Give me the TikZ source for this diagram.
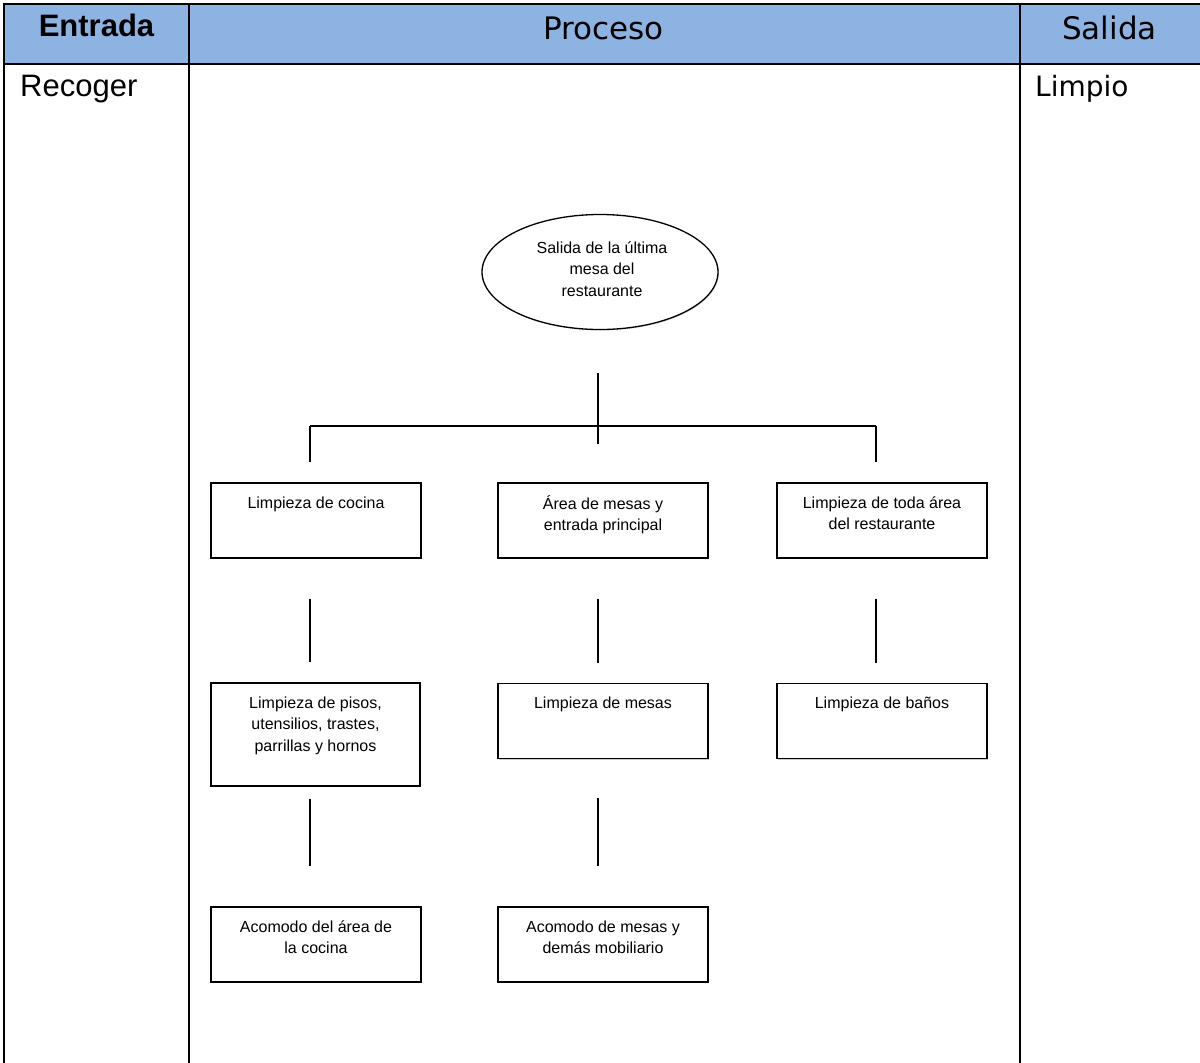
\documentclass[tikz,border=0pt]{standalone}
\usepackage{fontspec}
\setmainfont{Liberation Sans}
\newfontfamily\headfont{DejaVu Sans}
\usetikzlibrary{shapes.geometric,shadows,calc}
\definecolor{headblue}{HTML}{8DB3E2}

\begin{document}
\begin{tikzpicture}[x=1pt,y=-1pt,
  rule/.style={line width=2pt, line cap=rect},
  stepbox/.style={draw, fill=white, line width=1.3pt, minimum width=210pt, minimum height=75pt,
    inner sep=0pt, drop shadow={shadow xshift=1.2pt, shadow yshift=-1.2pt, fill=black!40}},
  boxtext/.style={font=\fontsize{16}{21.5}\selectfont, align=center, inner sep=0pt, anchor=north},
  link/.style={line width=1.3pt}]

\useasboundingbox (0,0) rectangle (1200,1063);

% table frame
\fill[headblue] (4,4) rectangle (1200,64);
\draw[rule] (4,4) -- (1200,4);
\draw[rule] (4,64) -- (1200,64);
\draw[rule] (4,4) -- (4,1063);
\draw[rule] (189,4) -- (189,1063);
\draw[rule] (1020,4) -- (1020,1063);

% headings and column contents
\node[anchor=base, inner sep=0pt, font=\bfseries\fontsize{31}{31}\selectfont] (hin) at (96.5,36) {Entrada};
\node[anchor=base, inner sep=0pt, font=\headfont\fontsize{31}{31}\selectfont] (hproc) at (603.5,39) {Proceso};
\node[anchor=base, inner sep=0pt, font=\headfont\fontsize{31}{31}\selectfont] (hout) at (1109.5,39) {Salida};
\node[anchor=base west, inner sep=0pt, font=\fontsize{31}{31}\selectfont] (in) at (20,96) {Recoger};
\node[anchor=base west, inner sep=0pt, font=\headfont\fontsize{28}{28}\selectfont] (out) at (1035,96) {Limpio};

% start event
\node[draw, ellipse, fill=white, line width=1.3pt, minimum width=236pt, minimum height=115pt,
  drop shadow={shadow xshift=1pt, shadow yshift=-1pt, fill=black!30}] (top) at (600,272) {};
\node[font=\fontsize{16}{21.5}\selectfont, align=center, inner sep=0pt] (toptext) at (602,269)
  {Salida de la última\\mesa del\\restaurante};

% first level
\node[stepbox] (c1) at (316,520.5) {};
\node[stepbox] (c2) at (603,520.5) {};
\node[stepbox] (c3) at (882,520.5) {};
\node[boxtext] (c1t) at ($(c1.north)+(0,14)$) {Limpieza de cocina};
\node[boxtext] (c2t) at ($(c2.north)+(0,13)$) {Área de mesas y\\entrada principal};
\node[boxtext] (c3t) at ($(c3.north)+(0,14)$) {Limpieza de toda área\\del restaurante};

% second level
\node[stepbox, minimum width=209pt, minimum height=103pt] (p1) at (315.5,734.5) {};
\node[stepbox] (p2) at (603,721) {};
\node[stepbox] (p3) at (882,721) {};
\node[boxtext] (p1t) at ($(p1.north)+(0,14)$) {Limpieza de pisos,\\utensilios, trastes,\\parrillas y hornos};
\node[boxtext] (p2t) at ($(p2.north)+(0,14)$) {Limpieza de mesas};
\node[boxtext] (p3t) at ($(p3.north)+(0,14)$) {Limpieza de baños};

% third level
\node[stepbox] (a1) at (316,944.5) {};
\node[stepbox] (a2) at (603,944.5) {};
\node[boxtext] (a1t) at ($(a1.north)+(0,14)$) {Acomodo del área de\\la cocina};
\node[boxtext] (a2t) at ($(a2.north)+(0,14)$) {Acomodo de mesas y\\demás mobiliario};

% branching from the start event
\coordinate (bl) at (310,426);
\coordinate (br) at (876,426);
\coordinate (bm) at (598,426);
\draw[link] (bl) -- (br);
\draw[link, shorten >=20pt] (bl) -- (bl |- c1.north);
\draw[link, shorten >=20pt] (br) -- (br |- c3.north);
\draw[link] ($(bm |- top.south)+(0,43)$) -- ($(bm)+(0,18)$);

% vertical links between levels
\draw[link] ($(c1.south)+(-6,40)$) -- ($(p1.north)+(-5.5,-20)$);
\draw[link] ($(c2.south)+(-5,40)$) -- ($(p2.north)+(-5,-20)$);
\draw[link] ($(c3.south)+(-6,40)$) -- ($(p3.north)+(-6,-20)$);
\draw[link] ($(p1.south)+(-5.5,12)$) -- ($(a1.north)+(-6,-40)$);
\draw[link] ($(p2.south)+(-5,39)$) -- ($(a2.north)+(-5,-40)$);

\end{tikzpicture}
\end{document}
